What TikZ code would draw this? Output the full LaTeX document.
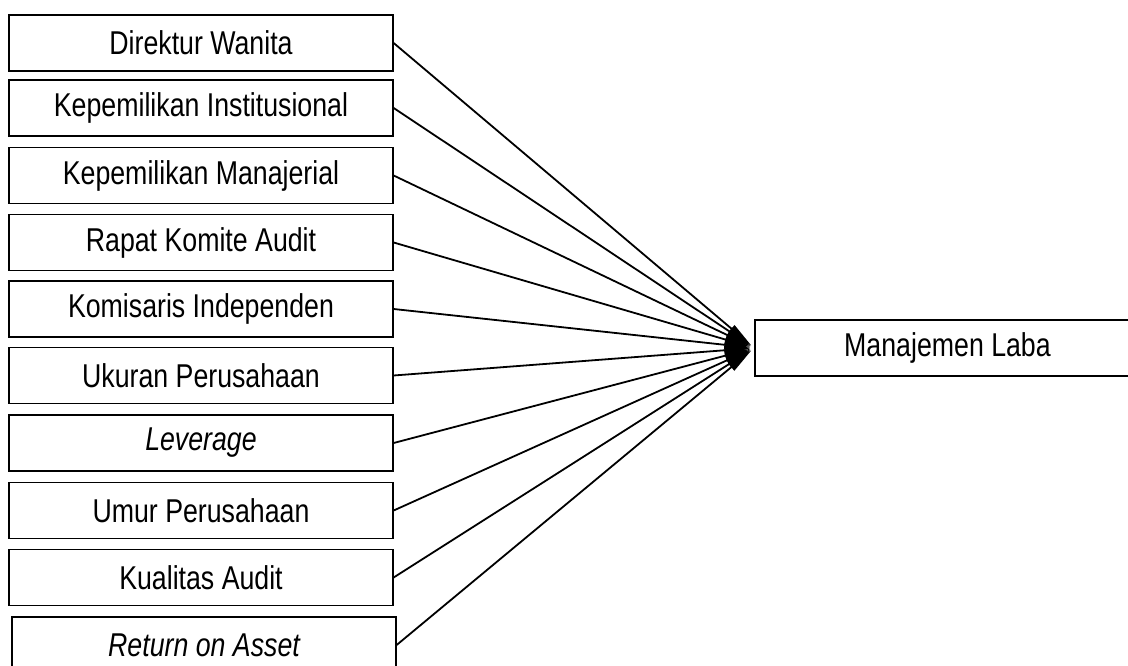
\documentclass[tikz,border=0pt]{standalone}
\usepackage{fontspec}
\setmainfont{Liberation Sans}[FakeStretch=0.81]
\usetikzlibrary{arrows.meta}
\begin{document}
\begin{tikzpicture}[x=1pt,y=-1pt,
  box/.style={draw=black,line width=1.3pt,rectangle,inner sep=0pt,
    minimum width=384pt,minimum height=56pt,
    font=\fontsize{33}{38}\selectfont},
  arr/.style={line width=1.8pt,-{Triangle[length=26pt,width=9pt]},shorten >=4pt}]
\useasboundingbox (0,0) rectangle (1128,666);
\clip (0,0) rectangle (1128,666);
\node[box] (b1) at (201,43) {Direktur Wanita};
\node[box] (b2) at (201,108) {Kepemilikan Institusional};
\node[box] (b3) at (201,175.5) {Kepemilikan Manajerial};
\node[box] (b4) at (201,242.5) {Rapat Komite Audit};
\node[box] (b5) at (201,309) {Komisaris Independen};
\node[box] (b6) at (201,375.5) {Ukuran Perusahaan};
\node[box] (b7) at (201,443) {\itshape Leverage};
\node[box] (b8) at (201,510.5) {Umur Perusahaan};
\node[box] (b9) at (201,577.5) {Kualitas Audit};
\node[box] (b10) at (204,645) {\itshape Return on Asset};
\node[box,minimum width=385pt] (m) at (947.5,348) {Manajemen Laba};
\foreach \i in {1,...,10} {
  \draw[arr] (b\i.east) -- (m.west);
}
\end{tikzpicture}
\end{document}
